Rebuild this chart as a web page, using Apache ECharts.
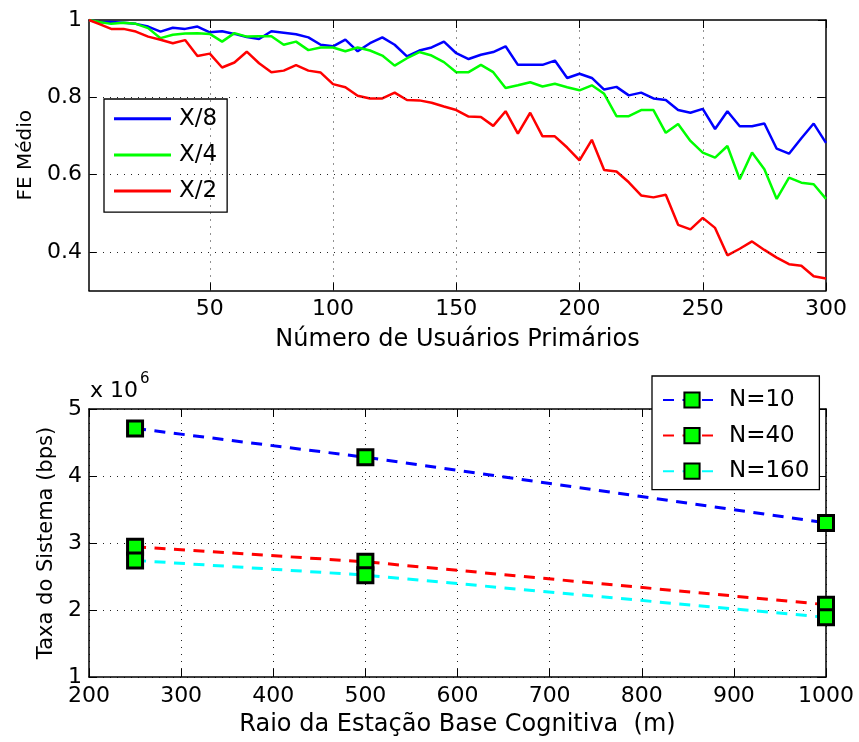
<!DOCTYPE html>
<html>
<head>
<meta charset="utf-8">
<script src="https://cdn.jsdelivr.net/npm/echarts@6/dist/echarts.min.js"></script>
<style>
html, body { margin: 0; padding: 0; background: #ffffff; }
#chart { width: 859px; height: 742px; }
</style>
</head>
<body>
<div id="chart"></div>
<script>
// Upper panel: average FE versus number of primary users
const primaryUsers = [1, 5, 10, 15, 20, 25, 30, 35, 40, 45, 50, 55, 60, 65, 70, 75, 80, 85, 90, 95,
  100, 105, 110, 115, 120, 125, 130, 135, 140, 145, 150, 155, 160, 165, 170, 175, 180, 185, 190, 195,
  200, 205, 210, 215, 220, 225, 230, 235, 240, 245, 250, 255, 260, 265, 270, 275, 280, 285, 290, 295, 300];

const feX8 = [1.000, 0.994, 0.995, 0.993, 0.990, 0.983, 0.970, 0.980, 0.977, 0.983,
  0.968, 0.971, 0.964, 0.956, 0.951, 0.971, 0.967, 0.963, 0.955, 0.936,
  0.932, 0.949, 0.919, 0.940, 0.955, 0.936, 0.906, 0.921, 0.929, 0.944,
  0.914, 0.899, 0.910, 0.917, 0.932, 0.884, 0.884, 0.884, 0.895, 0.850,
  0.861, 0.850, 0.820, 0.827, 0.805, 0.812, 0.797, 0.793, 0.767, 0.760,
  0.770, 0.718, 0.764, 0.725, 0.725, 0.732, 0.667, 0.654, 0.694, 0.732,
  0.682];

const feX4 = [1.000, 0.995, 0.990, 0.993, 0.990, 0.979, 0.953, 0.962, 0.965, 0.966,
  0.964, 0.944, 0.966, 0.957, 0.958, 0.958, 0.936, 0.944, 0.922, 0.929,
  0.929, 0.919, 0.929, 0.921, 0.908, 0.882, 0.901, 0.917, 0.908, 0.891,
  0.865, 0.865, 0.884, 0.865, 0.824, 0.831, 0.839, 0.828, 0.835, 0.826,
  0.818, 0.831, 0.809, 0.751, 0.751, 0.767, 0.767, 0.708, 0.731, 0.687,
  0.657, 0.644, 0.674, 0.588, 0.657, 0.614, 0.537, 0.592, 0.579, 0.575,
  0.537];

const feX2 = [1.000, 0.990, 0.977, 0.977, 0.970, 0.957, 0.949, 0.940, 0.948, 0.907,
  0.913, 0.877, 0.890, 0.918, 0.888, 0.865, 0.869, 0.883, 0.869, 0.864,
  0.834, 0.826, 0.804, 0.797, 0.797, 0.812, 0.793, 0.792, 0.786, 0.776,
  0.767, 0.750, 0.749, 0.726, 0.764, 0.706, 0.760, 0.699, 0.699, 0.670,
  0.637, 0.690, 0.612, 0.608, 0.580, 0.546, 0.541, 0.548, 0.470, 0.458,
  0.488, 0.462, 0.391, 0.408, 0.427, 0.405, 0.385, 0.368, 0.364, 0.337,
  0.331];

// Tick positions of the upper panel (the axis starts at 1 user and 0.3 FE)
const userTicks = [50, 100, 150, 200, 250, 300];
const feTicks = [0.4, 0.6, 0.8, 1];

// Lower panel: system rate (x 10^6 bps) versus cognitive base station radius
const radius = [250, 500, 1000];
const rateN10 = [4.71, 4.28, 3.30];
const rateN40 = [2.945, 2.72, 2.08];
const rateN160 = [2.74, 2.52, 1.89];

const FONT = 'DejaVu Sans';
const zip = (xs, ys) => xs.map((x, i) => [x, ys[i]]);

const boxLine = { show: true, onZero: false, lineStyle: { color: '#000', width: 1.5 } };
const inTick = { show: true, inside: true, length: 8, lineStyle: { color: '#000', width: 1 } };
const dottedStyle = { color: '#222', width: 1, type: [1, 6] };
const tickFont = { color: '#000', fontFamily: FONT, fontSize: 22, margin: 8 };

function axisPair(kind, gridIndex, scale, tickValues, mainExtra) {
  const tick = tickValues ? Object.assign({}, inTick, { customValues: tickValues }) : inTick;
  const main = Object.assign({
    type: 'value', gridIndex, position: kind === 'x' ? 'bottom' : 'left',
    axisLine: boxLine, axisTick: tick,
    splitLine: tickValues ? { show: false } : { show: true, lineStyle: dottedStyle },
    axisLabel: Object.assign({}, tickFont, tickValues ? { customValues: tickValues } : {})
  }, scale, mainExtra);
  main.axisLabel = Object.assign({}, main.axisLabel, tickValues ? { customValues: tickValues } : {});
  const mirror = Object.assign({
    type: 'value', gridIndex, position: kind === 'x' ? 'top' : 'right',
    axisLine: boxLine, axisTick: tick, splitLine: { show: false },
    axisLabel: { show: false }
  }, scale);
  return [main, mirror];
}

const nameFont = { color: '#000', fontFamily: FONT, fontSize: 24 };

const xAxes = [].concat(
  axisPair('x', 0, { min: 1, max: 300 }, userTicks, {
    name: 'Número de Usuários Primários', nameLocation: 'middle', nameGap: 37,
    nameTextStyle: nameFont
  }),
  axisPair('x', 1, { min: 200, max: 1000, interval: 100 }, null, {
    axisLabel: Object.assign({}, tickFont, { formatter: v => String(v) }),
    name: 'Raio da Estação Base Cognitiva  (m)', nameLocation: 'middle', nameGap: 36,
    nameTextStyle: nameFont
  })
);

const yAxes = [].concat(
  axisPair('y', 0, { min: 0.3, max: 1 }, feTicks, {
    axisLabel: Object.assign({}, tickFont, { margin: 7 }),
    name: 'FE Médio', nameLocation: 'middle', nameGap: 53, nameRotate: 90,
    nameTextStyle: { color: '#000', fontFamily: FONT, fontSize: 20 }
  }),
  axisPair('y', 1, { min: 1, max: 5, interval: 1 }, null, {
    axisLabel: Object.assign({}, tickFont, { margin: 7 }),
    name: 'Taxa do Sistema (bps)', nameLocation: 'middle', nameGap: 30, nameRotate: 90,
    nameTextStyle: { color: '#000', fontFamily: FONT, fontSize: 21 }
  })
);

// Dotted grid of the upper panel, placed on its own tick values
const feGridSeries = {
  type: 'line', xAxisIndex: 0, yAxisIndex: 0, data: [], z: 1, silent: true,
  markLine: {
    silent: true, symbol: ['none', 'none'], label: { show: false }, animation: false,
    lineStyle: dottedStyle,
    emphasis: { disabled: true },
    data: userTicks.filter(v => v < 300).map(v => ({ xAxis: v }))
      .concat(feTicks.filter(v => v < 1).map(v => ({ yAxis: v })))
  }
};

function feLine(name, color, values) {
  return {
    name, type: 'line', xAxisIndex: 0, yAxisIndex: 0, z: 3,
    data: zip(primaryUsers, values),
    symbol: 'none', showSymbol: false, animation: false,
    lineStyle: { color, width: 2.5 }, itemStyle: { color }
  };
}

function rateLine(name, color, values) {
  return {
    name, type: 'line', xAxisIndex: 2, yAxisIndex: 2,
    data: zip(radius, values),
    symbol: 'rect', symbolSize: 15, animation: false,
    lineStyle: { color, width: 3, type: [11, 8.5] },
    itemStyle: { color: '#00ff00', borderColor: '#000', borderWidth: 3 }
  };
}

const legendText = { color: '#000', fontFamily: FONT, fontSize: 23, padding: [0, 0, 0, 3] };

const option = {
  backgroundColor: '#ffffff',
  animation: false,
  grid: [
    { left: 89, top: 20, right: 33, height: 270.5 },
    { left: 89, top: 409, right: 33, height: 268 }
  ],
  xAxis: xAxes,
  yAxis: yAxes,
  legend: [
    {
      data: ['X/8', 'X/4', 'X/2'], orient: 'vertical', left: 104, top: 99,
      icon: 'rect', itemWidth: 57, itemHeight: 3, itemGap: 13.1,
      padding: [8.3, 10, 9.6, 10],
      backgroundColor: '#fff', borderColor: '#000', borderWidth: 1.3, borderRadius: 0,
      textStyle: legendText,
      selectedMode: false
    },
    {
      data: ['N=10', 'N=40', 'N=160'], orient: 'vertical', left: 652, top: 376,
      itemWidth: 58, itemHeight: 19, itemGap: 12.6,
      padding: [12.5, 10, 7, 10],
      backgroundColor: '#fff', borderColor: '#000', borderWidth: 1.3, borderRadius: 0,
      textStyle: legendText,
      selectedMode: false
    }
  ],
  graphic: [
    { type: 'text', left: 90, top: 380, style: { text: 'x 10', fontFamily: FONT, fontSize: 22, fill: '#000' } },
    { type: 'text', left: 140, top: 372, style: { text: '6', fontFamily: FONT, fontSize: 15, fill: '#000' } }
  ],
  series: [
    feGridSeries,
    feLine('X/8', '#0000ff', feX8),
    feLine('X/4', '#00ff00', feX4),
    feLine('X/2', '#ff0000', feX2),
    rateLine('N=10', '#0000ff', rateN10),
    rateLine('N=40', '#ff0000', rateN40),
    rateLine('N=160', '#00ffff', rateN160)
  ]
};

const chart = echarts.init(document.getElementById('chart'), null, { renderer: 'canvas' });
chart.setOption(option);
</script>
</body>
</html>
